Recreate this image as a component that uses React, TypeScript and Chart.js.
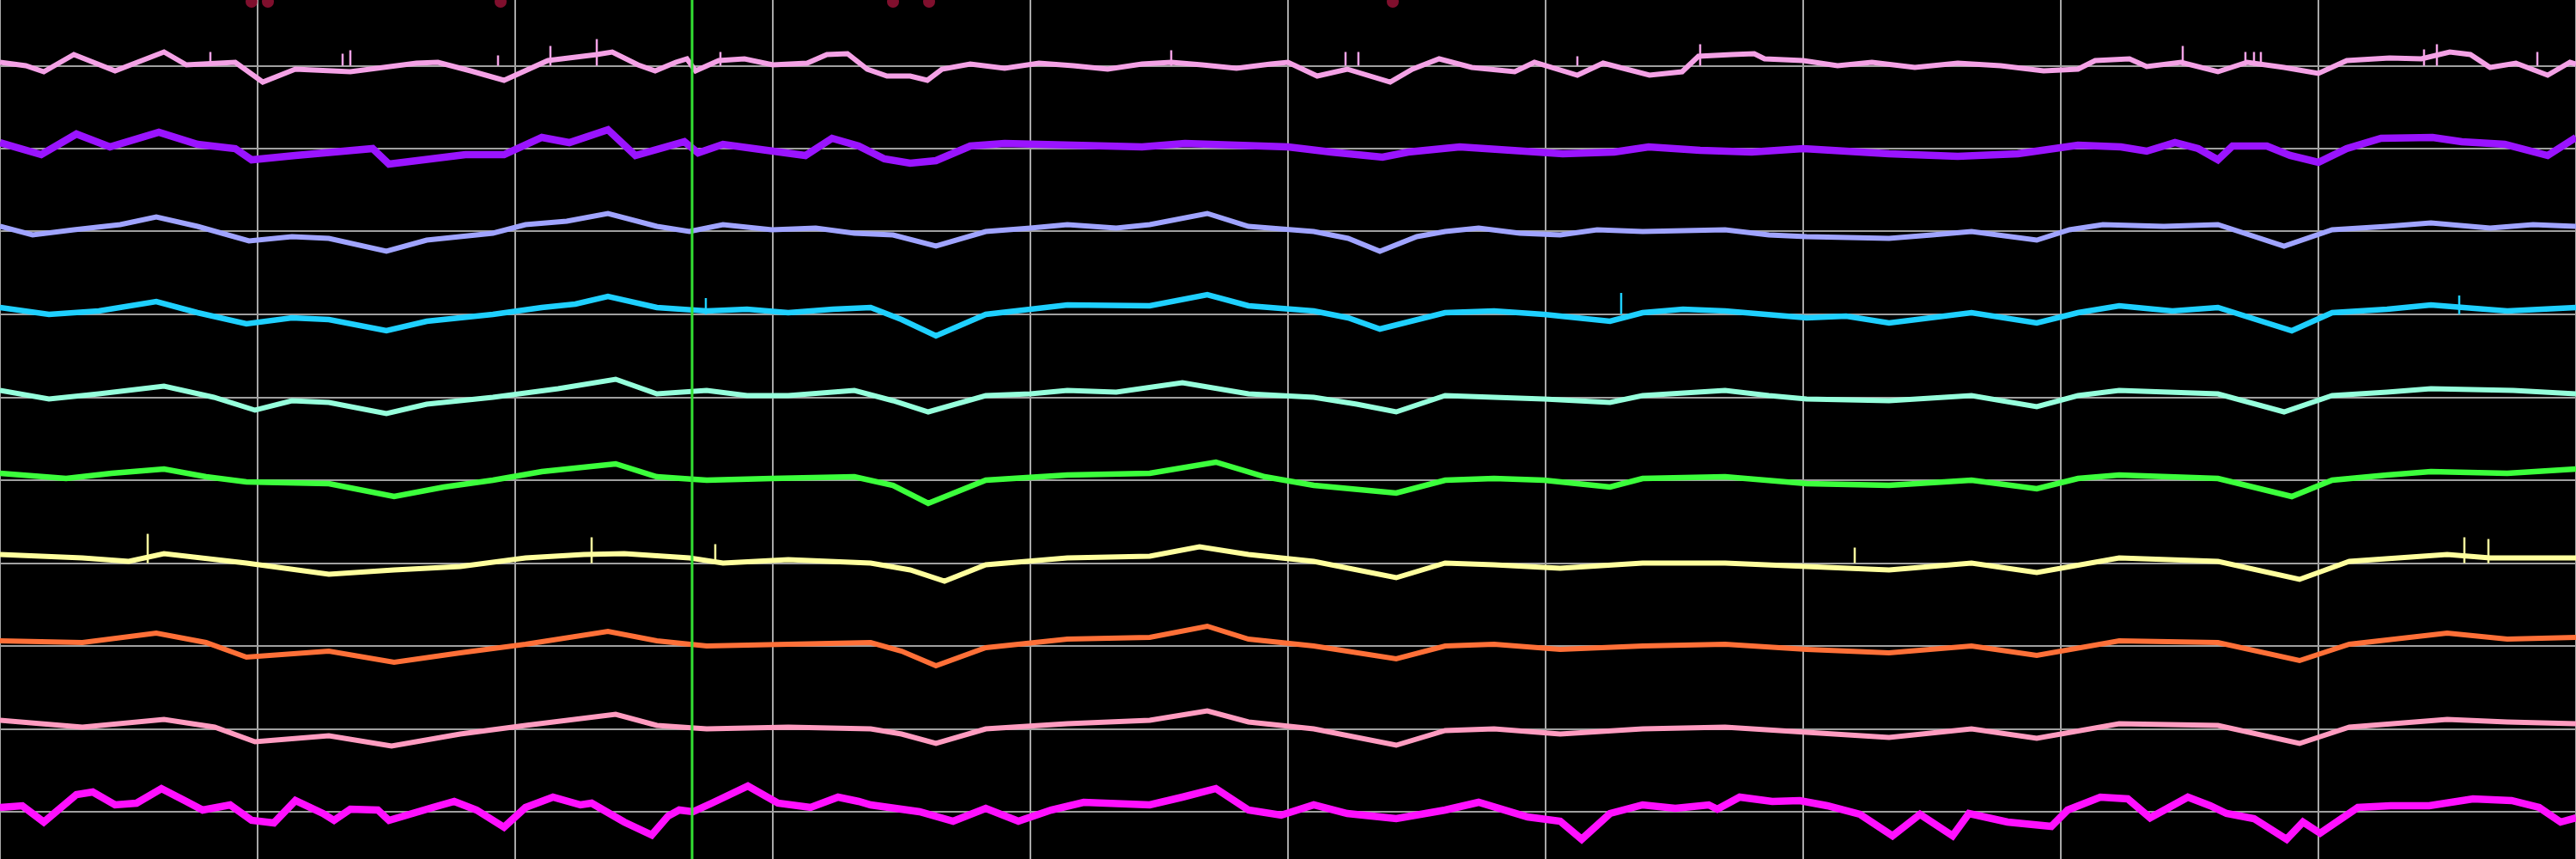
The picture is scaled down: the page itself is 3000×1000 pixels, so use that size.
import { useEffect, useRef } from "react";
import { Chart, registerables } from "chart.js";

Chart.register(...registerables);

// Recording: 10 s at 300 samples/s, 10 channels. Values are amplitudes (arbitrary units) around each channel baseline.
const SAMPLE_RATE = 300;
const DURATION_S = 10;

type Pt = [number, number]; // [sample index, amplitude]

const ch1: Pt[] = [[0,4],[30,0],[51,-7],[86,13],[134,-6],[191,16],[217,1],[274,4],[306,-19],[344,-4],[408,-7],[485,3],[510,4],[548,-6],[587,-17],[638,6],[695,13],[713,16],[743,1],[763,-6],[787,4],[800,8],[810,-6],[837,6],[867,8],[900,1],[940,3],[963,13],[987,14],[1010,-4],[1033,-12],[1060,-12],[1080,-17],[1097,-4],[1130,2],[1170,-3],[1210,3],[1250,0],[1290,-4],[1330,2],[1364,4],[1400,1],[1440,-3],[1480,2],[1500,4],[1534,-12],[1569,-4],[1619,-19],[1645,-4],[1676,8],[1714,-2],[1764,-7],[1787,4],[1837,-11],[1867,3],[1921,-11],[1959,-7],[1978,11],[2017,13],[2043,14],[2055,8],[2100,6],[2140,0],[2180,4],[2230,-2],[2280,3],[2330,0],[2380,-6],[2420,-4],[2440,6],[2480,8],[2500,-1],[2540,4],[2583,-7],[2617,4],[2660,-2],[2700,-9],[2733,6],[2783,9],[2820,8],[2853,16],[2877,13],[2900,-2],[2930,3],[2967,-11],[2993,4],[3000,2]];
const spikes1: Pt[] = [[245,16],[399,14],[408,18],[580,12],[641,23],[695,31],[839,16],[1364,18],[1567,16],[1582,16],[1837,11],[1980,25],[2542,23],[2615,16],[2625,16],[2633,16],[2823,19],[2838,25],[2955,16]];

const ch2: Pt[] = [[0,7],[48,-7],[89,17],[128,2],[185,19],[230,5],[274,0],[293,-13],[344,-8],[434,0],[453,-18],[542,-7],[587,-7],[631,13],[663,7],[708,22],[740,-8],[797,8],[813,-5],[842,5],[893,-2],[938,-8],[969,12],[1000,3],[1030,-12],[1060,-17],[1090,-14],[1130,3],[1170,6],[1250,4],[1330,2],[1380,6],[1440,4],[1500,2],[1550,-4],[1610,-10],[1640,-4],[1700,2],[1760,-2],[1820,-6],[1880,-4],[1920,2],[1980,-2],[2040,-4],[2100,0],[2200,-6],[2280,-9],[2350,-6],[2420,4],[2470,2],[2500,-3],[2533,7],[2560,0],[2583,-13],[2600,3],[2640,3],[2667,-8],[2700,-16],[2733,0],[2773,12],[2833,13],[2867,8],[2917,5],[2967,-8],[3000,13]];

const ch3: Pt[] = [[0,6],[38,-4],[86,2],[140,8],[182,17],[230,6],[290,-11],[340,-6],[383,-8],[450,-23],[497,-10],[574,-2],[612,8],[660,12],[708,21],[765,6],[803,0],[842,8],[899,2],[950,4],[995,-2],[1040,-4],[1090,-17],[1148,0],[1200,4],[1243,8],[1300,4],[1339,8],[1406,21],[1454,6],[1530,0],[1570,-8],[1607,-23],[1650,-6],[1683,0],[1722,4],[1770,-2],[1817,-4],[1860,2],[1913,0],[2009,2],[2060,-4],[2104,-6],[2200,-8],[2250,-4],[2296,0],[2372,-10],[2410,2],[2449,8],[2520,6],[2583,8],[2660,-17],[2716,2],[2780,6],[2831,10],[2900,4],[2950,8],[3000,6]];

const ch4: Pt[] = [[0,8],[57,0],[115,4],[182,15],[230,2],[287,-11],[340,-4],[383,-6],[450,-19],[497,-8],[574,0],[631,8],[670,12],[708,21],[765,8],[823,4],[870,6],[918,2],[970,6],[1014,8],[1050,-6],[1090,-25],[1148,0],[1200,6],[1243,11],[1339,10],[1406,23],[1454,10],[1530,4],[1570,-4],[1607,-17],[1683,2],[1740,4],[1798,0],[1875,-8],[1913,2],[1960,6],[2009,4],[2104,-4],[2150,-2],[2200,-10],[2296,2],[2372,-10],[2420,2],[2468,10],[2530,4],[2583,8],[2669,-19],[2716,2],[2780,6],[2831,11],[2920,4],[3000,8]];
const spikes4: Pt[] = [[822,19],[1888,25],[2864,22]];

const ch5: Pt[] = [[0,8],[57,-2],[115,4],[191,13],[249,0],[297,-15],[340,-4],[383,-6],[450,-19],[497,-8],[574,0],[650,10],[717,21],[765,4],[823,8],[870,2],[918,2],[995,8],[1040,-4],[1081,-17],[1148,2],[1200,4],[1243,8],[1300,6],[1377,17],[1454,4],[1530,0],[1580,-8],[1626,-17],[1683,2],[1740,0],[1798,-2],[1875,-6],[1913,2],[2009,8],[2060,2],[2104,-2],[2200,-4],[2296,2],[2372,-11],[2420,2],[2468,8],[2583,4],[2660,-17],[2716,2],[2780,6],[2831,10],[2927,8],[3000,4]];

const ch6: Pt[] = [[0,8],[77,2],[130,8],[191,13],[240,4],[287,-2],[383,-4],[459,-19],[517,-8],[574,0],[631,10],[717,19],[765,4],[823,0],[899,2],[995,4],[1040,-6],[1081,-27],[1148,0],[1243,6],[1339,8],[1416,21],[1473,4],[1530,-6],[1626,-15],[1683,0],[1740,2],[1798,0],[1875,-8],[1913,2],[2009,4],[2104,-4],[2200,-6],[2296,0],[2372,-10],[2420,2],[2468,6],[2583,2],[2669,-19],[2716,0],[2780,6],[2831,10],[2920,8],[3000,13]];

const ch7: Pt[] = [[0,10],[96,6],[150,2],[191,11],[287,0],[383,-13],[459,-8],[536,-4],[612,6],[680,10],[727,11],[803,6],[842,0],[918,4],[1014,0],[1060,-8],[1100,-21],[1148,-2],[1243,6],[1339,8],[1397,19],[1454,10],[1530,2],[1626,-17],[1683,0],[1740,-2],[1817,-6],[1913,0],[2009,0],[2104,-4],[2200,-8],[2296,0],[2372,-11],[2468,6],[2583,2],[2678,-19],[2736,2],[2850,10],[2900,6],[3000,6]];
const spikes7: Pt[] = [[172,34],[689,30],[833,22],[2160,18],[2870,30],[2898,28]];

const ch8: Pt[] = [[0,6],[96,4],[182,15],[240,4],[287,-13],[383,-6],[459,-19],[536,-8],[612,2],[708,17],[765,6],[823,0],[918,2],[1014,4],[1050,-6],[1090,-23],[1148,-2],[1243,8],[1339,10],[1406,23],[1454,8],[1530,0],[1626,-15],[1683,0],[1740,2],[1817,-4],[1913,0],[2009,2],[2104,-4],[2200,-8],[2296,0],[2372,-11],[2468,6],[2583,4],[2678,-17],[2736,2],[2850,15],[2920,8],[3000,10]];

const ch9: Pt[] = [[0,10],[96,2],[191,11],[250,2],[297,-15],[383,-8],[456,-20],[536,-6],[612,4],[717,17],[765,4],[823,0],[918,2],[1014,0],[1050,-6],[1090,-17],[1148,0],[1243,6],[1339,10],[1406,21],[1454,8],[1530,0],[1626,-19],[1683,-2],[1740,0],[1817,-6],[1913,0],[2009,2],[2104,-4],[2200,-10],[2296,0],[2372,-11],[2468,6],[2583,4],[2678,-17],[2736,2],[2850,11],[2920,8],[3000,6]];

const ch10: Pt[] = [[0,5],[26,7],[51,-12],[89,20],[108,23],[134,8],[159,10],[188,27],[217,12],[236,2],[268,8],[293,-10],[319,-13],[344,13],[376,-2],[389,-10],[408,3],[440,2],[453,-10],[504,5],[529,12],[555,2],[587,-18],[612,5],[644,17],[676,8],[689,10],[727,-12],[759,-27],[778,-5],[791,2],[807,0],[829,10],[871,30],[906,10],[944,5],[976,17],[1000,12],[1014,8],[1071,0],[1110,-11],[1148,4],[1186,-11],[1224,2],[1262,11],[1339,8],[1377,17],[1416,27],[1454,2],[1492,-4],[1530,8],[1569,-2],[1626,-8],[1683,2],[1722,11],[1779,-6],[1817,-11],[1842,-32],[1875,-2],[1913,8],[1951,4],[1990,8],[2000,3],[2026,17],[2064,12],[2096,13],[2128,7],[2166,-3],[2204,-28],[2236,-3],[2274,-28],[2293,-2],[2338,-12],[2389,-17],[2408,2],[2446,17],[2478,15],[2504,-7],[2548,17],[2574,7],[2593,-2],[2625,-8],[2663,-32],[2682,-12],[2702,-25],[2746,5],[2784,7],[2829,7],[2880,15],[2925,13],[2957,5],[2982,-12],[3000,-7]];

const channels: Pt[][] = [ch1, ch2, ch3, ch4, ch5, ch6, ch7, ch8, ch9, ch10];
const channelSpikes: Pt[][] = [spikes1, [], [], spikes4, [], [], spikes7, [], [], []];
const channelColors = ["#f4a2e6", "#9a14ff", "#a0a4ff", "#1fd0ff", "#96ffdc", "#3cff3c", "#ffff9e", "#ff7038", "#ff9cc0", "#ff10ff"];
const channelWidths = [6, 8.5, 6, 6.5, 6, 6.5, 6, 6, 6, 8.5];

const cursorSample = 806;
const eventSamples = [293, 312, 583, 1040, 1082, 1622];

// layout (canvas pixel units on the value axis)
const W = 3000;
const H = 1000;
const TOP_OFFSET = 76.5;
const SPACING = 96.5;

export default function App() {
  const ref = useRef<HTMLCanvasElement | null>(null);

  useEffect(() => {
    const canvas = ref.current;
    if (!canvas) return;
    const base = (k: number) => H - TOP_OFFSET - SPACING * k;
    const baselines = channels.map((_, k) => base(k));

    const datasets: any[] = [];
    datasets.push({
      type: "line",
      label: "cursor",
      data: [
        { x: cursorSample / SAMPLE_RATE, y: 0 },
        { x: cursorSample / SAMPLE_RATE, y: H },
      ],
      borderColor: "#33e033",
      borderWidth: 3,
      pointRadius: 0,
      tension: 0,
    });
    datasets.push({
      type: "scatter",
      label: "events",
      data: eventSamples.map((s) => ({ x: s / SAMPLE_RATE, y: H - 2 })),
      backgroundColor: "rgba(170,20,60,0.75)",
      borderWidth: 0,
      pointRadius: 7,
      clip: false,
    });
    channels.forEach((ch, k) => {
      const spikeData: any[] = [];
      channelSpikes[k].forEach(([s, v]) => {
        spikeData.push({ x: s / SAMPLE_RATE, y: base(k) });
        spikeData.push({ x: s / SAMPLE_RATE, y: base(k) + v });
        spikeData.push({ x: s / SAMPLE_RATE, y: null });
      });
      if (spikeData.length) {
        datasets.push({
          type: "line",
          label: "spikes" + (k + 1),
          data: spikeData,
          borderColor: channelColors[k],
          borderWidth: 2.5,
          pointRadius: 0,
          spanGaps: false,
        });
      }
      datasets.push({
        type: "line",
        label: "ch" + (k + 1),
        data: ch.map(([s, v]) => ({ x: s / SAMPLE_RATE, y: base(k) + v })),
        borderColor: channelColors[k],
        borderWidth: channelWidths[k],
        pointRadius: 0,
        tension: 0,
        borderJoinStyle: "miter",
      });
    });

    const chart = new Chart(canvas, {
      type: "line",
      data: { datasets },
      options: {
        animation: false,
        responsive: false,
        devicePixelRatio: 1,
        layout: { padding: 0, autoPadding: false },
        plugins: { legend: { display: false }, tooltip: { enabled: false } },
        scales: {
          x: {
            type: "linear",
            min: 0,
            max: DURATION_S,
            ticks: { display: false, stepSize: 1 },
            grid: { color: "#a8a8a8", lineWidth: 2, drawTicks: false },
            border: { display: false },
          },
          y: {
            type: "linear",
            min: 0,
            max: H,
            afterBuildTicks: (scale: any) => {
              scale.ticks = baselines.map((v) => ({ value: v }));
            },
            ticks: { display: false },
            grid: { color: "#a0a0a0", lineWidth: 2, drawTicks: false },
            border: { display: false },
          },
        },
      },
    } as any);
    return () => chart.destroy();
  }, []);

  return (
    <div style={{ position: "fixed", left: 0, top: 0, width: W, height: H, background: "#000" }}>
      <canvas ref={ref} width={W} height={H} style={{ display: "block", width: W, height: H }} />
    </div>
  );
}
